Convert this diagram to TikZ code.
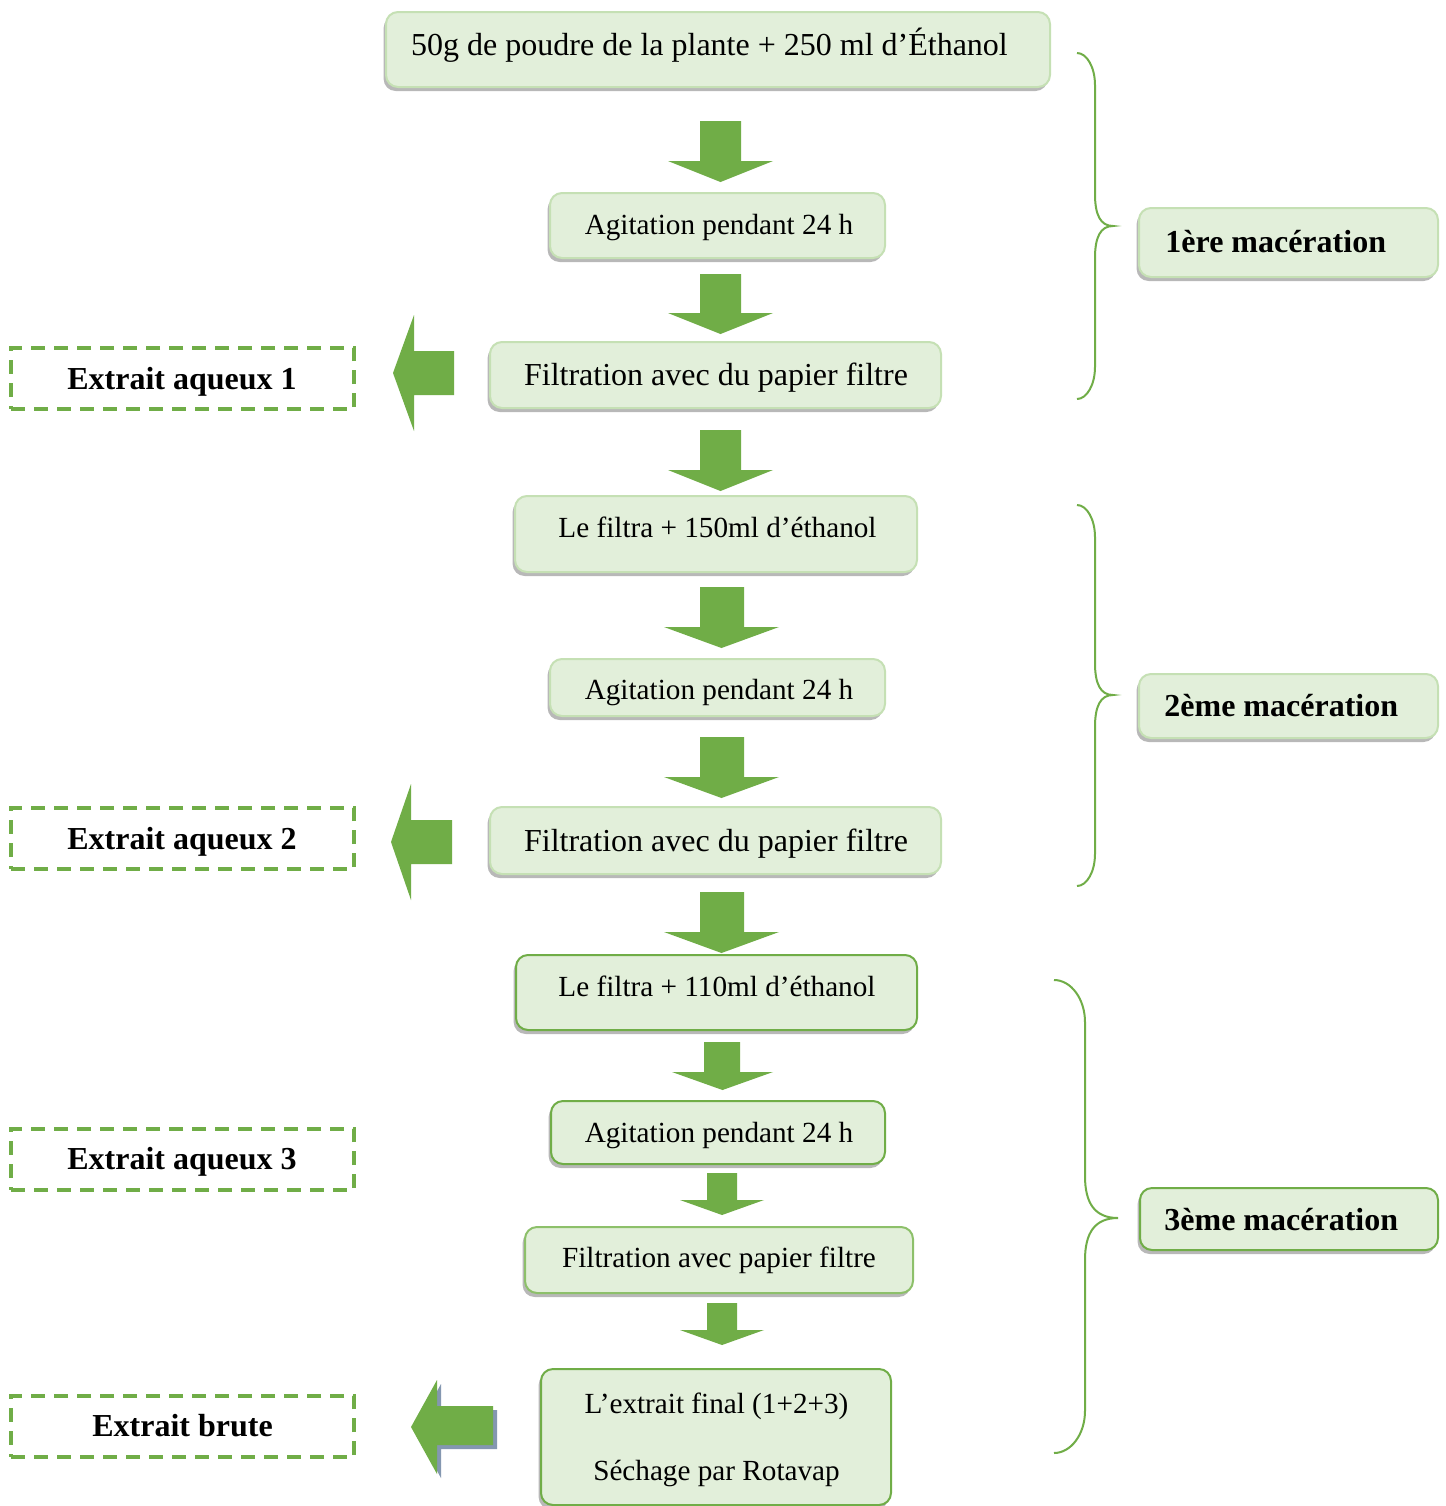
\documentclass[tikz,border=0pt]{standalone}
\usepackage{fontspec}
\setmainfont{Liberation Serif}
\usetikzlibrary{shadows}
\definecolor{gA}{HTML}{70AD47}
\definecolor{gFill}{HTML}{E2EFDA}
\definecolor{gLight}{HTML}{C5E0B4}
\definecolor{gMid}{HTML}{8DC06A}
\definecolor{shBlue}{HTML}{8497B0}
\tikzset{
 pbox/.style={draw=gLight, line width=1pt, fill=gFill, rounded corners=6pt, inner sep=0pt,
   drop shadow={shadow xshift=-1.2pt, shadow yshift=-2pt, opacity=0.28, fill=black}},
 dbox/.style={pbox, draw=gA},
 mbox/.style={pbox, draw=gMid},
 ebox/.style={draw=gA, line width=1.6pt, dash pattern=on 7pt off 4.5pt, inner sep=0pt},
 bigtxt/.style={anchor=base, inner sep=0pt, font=\fontsize{16}{19}\selectfont},
 smalltxt/.style={anchor=base, inner sep=0pt, font=\fontsize{14.6}{17}\selectfont},
 boldtxt/.style={anchor=base, inner sep=0pt, font=\fontsize{16}{19}\selectfont\bfseries},
 brc/.style={draw=gA, line width=1pt},
 blk/.style={fill=gA},
}
\newcommand\darr[7]{\fill[blk] (#1,#3) -- (#2,#3) -- (#2,#4) -- (#6,#4) -- ({(#5+#6)/2},#7) -- (#5,#4) -- (#1,#4) -- cycle;}
\newcommand\larr[9]{\fill[#9] (#1,#2) -- (#3,#4) -- (#3,#7) -- (#6,#7) -- (#6,#8) -- (#3,#8) -- (#3,#5) -- cycle;}
% #1 end x, #2 vertical x, #3 tip x, #4 top y, #5 mid y, #6 bottom y, #7 radius
\newcommand\gbrace[7]{\draw[brc] (#1,#4) .. controls ({#1+0.55*(#2-#1)},#4) and (#2,{#4+0.45*#7}) .. (#2,#4+#7) -- (#2,#5-#7) .. controls (#2,{#5-0.35*#7}) and ({#2+0.3*(#3-#2)},#5) .. (#3,#5) .. controls ({#2+0.3*(#3-#2)},#5) and (#2,{#5+0.35*#7}) .. (#2,#5+#7) -- (#2,#6-#7) .. controls (#2,{#6-0.45*#7}) and ({#1+0.55*(#2-#1)},#6) .. (#1,#6);}
\begin{document}
\begin{tikzpicture}[x=0.5pt,y=-0.5pt]
\useasboundingbox[fill=white] (0,0) rectangle (1446,1506);
% central boxes
\node[pbox, minimum width=332pt, minimum height=37.5pt] (b1) at (718,49.5) {};
\node[pbox, minimum width=167.5pt, minimum height=32.5pt] (b2) at (717.5,225.5) {};
\node[pbox, minimum width=225.5pt, minimum height=33pt] (b3) at (715.5,375) {};
\node[pbox, minimum width=201pt, minimum height=38pt] (b4) at (716,534) {};
\node[pbox, minimum width=167.5pt, minimum height=28.5pt] (b5) at (717.5,687.5) {};
\node[pbox, minimum width=225.5pt, minimum height=33.5pt] (b6) at (715.5,840.5) {};
\node[dbox, minimum width=200.5pt, minimum height=37.5pt] (b7) at (716.5,992.5) {};
\node[dbox, minimum width=167pt, minimum height=31.5pt] (b8) at (718,1132.5) {};
\node[mbox, minimum width=194pt, minimum height=33pt] (b9) at (719,1260) {};
\node[dbox, minimum width=175pt, minimum height=68pt] (b10) at (716,1437) {};
% right boxes
\node[pbox, minimum width=149.5pt, minimum height=34.5pt] (r1) at (1288.5,242.5) {};
\node[pbox, minimum width=149.5pt, minimum height=32pt] (r2) at (1288.5,706) {};
\node[dbox, minimum width=149pt, minimum height=31pt] (r3) at (1289,1219) {};
% dashed boxes
\node[ebox, minimum width=171.5pt, minimum height=30.5pt] (d1) at (182.5,378.5) {};
\node[ebox, minimum width=171.5pt, minimum height=30.5pt] (d2) at (182.5,838.5) {};
\node[ebox, minimum width=171.5pt, minimum height=30.5pt] (d3) at (182.5,1159.5) {};
\node[ebox, minimum width=171.5pt, minimum height=30.5pt] (d4) at (182.5,1426.5) {};
% texts
\node[bigtxt] (t1) at (709.5,55) {50g de poudre de la plante + 250 ml d’Éthanol};
\node[smalltxt] (t2) at (719,234) {Agitation pendant 24 h};
\node[bigtxt] (t3) at (716,385) {Filtration avec du papier filtre};
\node[smalltxt] (t4) at (717.5,537) {Le filtra + 150ml d’éthanol};
\node[smalltxt] (t5) at (719,699) {Agitation pendant 24 h};
\node[bigtxt] (t6) at (716,851) {Filtration avec du papier filtre};
\node[smalltxt] (t7) at (717,996) {Le filtra + 110ml d’éthanol};
\node[smalltxt] (t8) at (719,1142) {Agitation pendant 24 h};
\node[smalltxt] (t9) at (719,1267) {Filtration avec papier filtre};
\node[smalltxt] (t10a) at (716.5,1413) {L’extrait final (1+2+3)};
\node[smalltxt] (t10b) at (716.5,1480) {Séchage par Rotavap};
\node[boldtxt, anchor=base west] (m1) at (1165,252) {1ère macération};
\node[boldtxt, anchor=base west] (m2) at (1164,716) {2ème macération};
\node[boldtxt, anchor=base west] (m3) at (1164,1230) {3ème macération};
\node[boldtxt] (e1) at (182,389) {Extrait aqueux 1};
\node[boldtxt] (e2) at (182,849) {Extrait aqueux 2};
\node[boldtxt] (e3) at (182,1169) {Extrait aqueux 3};
\node[boldtxt] (e4) at (182.5,1436) {Extrait brute};
% down block arrows
\darr{700}{741}{121}{161}{668}{773}{182}
\darr{700}{741}{274}{313}{668}{773}{334}
\darr{700}{741}{430}{470}{668}{773}{491}
\darr{700}{744}{587}{627}{664}{779}{648}
\darr{700}{744}{737}{777}{664}{779}{798}
\darr{700}{744}{892}{932}{664}{779}{953}
\darr{704}{740}{1042}{1072}{672}{773}{1090}
\darr{707}{737}{1173}{1200}{680}{764}{1215}
\darr{707}{737}{1303}{1330}{680}{764}{1345}
% left block arrows
\larr{393}{373}{414}{315}{431}{454}{351}{395}{blk}
\larr{391}{842}{411}{784}{900}{452}{820}{864}{blk}
\larr{415}{1431}{441}{1384}{1478}{497}{1410}{1449}{fill=shBlue}
\larr{411}{1427}{437}{1380}{1474}{493}{1406}{1445}{blk}
% braces
\gbrace{1077}{1095}{1113}{53}{226}{399}{32}
\gbrace{1077}{1095}{1113}{505}{695}{886}{32}
\gbrace{1054}{1085}{1118}{980}{1218}{1453}{42}
\end{tikzpicture}
\end{document}
